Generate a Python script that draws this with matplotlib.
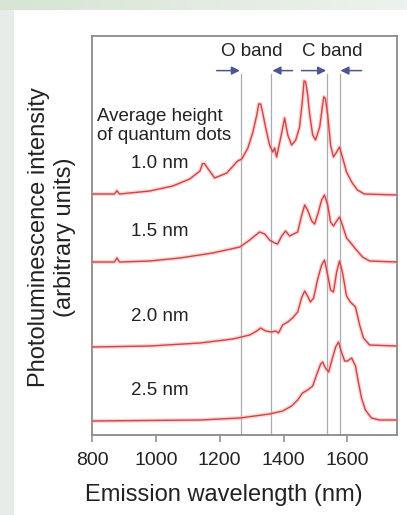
import numpy as np
import matplotlib
matplotlib.use('Agg')
import matplotlib.pyplot as plt
from matplotlib.patches import Rectangle

plt.rcParams['font.family'] = ['Liberation Sans', 'DejaVu Sans']

# Spettri di fotoluminescenza (intensita' relativa, unita' arbitrarie)
etichette = ['1.0 nm', '1.5 nm', '2.0 nm', '2.5 nm']
offset = [60.25, 43.25, 22.0, 3.5]

wl_10 = [800, 870, 878, 886, 981, 1053, 1106, 1138, 1146, 1152, 1166, 1184, 1222, 1256, 1269,
         1288, 1303, 1316, 1322, 1328, 1334, 1344, 1356, 1366, 1372, 1378, 1388, 1397, 1403,
         1413, 1425, 1438, 1450, 1459, 1464, 1469, 1475, 1481, 1491, 1500, 1513, 1522, 1526, 1531,
         1538, 1547, 1556, 1566, 1575, 1584, 1597, 1613, 1631, 1653, 1753]
int_10 = [0, 0, 0.8, 0, 0.75, 2, 3.75, 5.75, 7.6, 7.6, 6, 4, 5.25, 8.25, 8.75,
          11.5, 15.25, 19.75, 22.5, 22.5, 20.5, 16.5, 12.25, 10.5, 11.5, 9.25, 13, 16.5, 19,
          14.75, 12.25, 13.5, 16.75, 23.5, 28.3, 28.0, 25.0, 20.25, 14.75, 13.5, 16.75, 22.25, 24.3, 23.8,
          19.75, 12.25, 9.25, 10.5, 11.75, 9.25, 5.5, 3, 1, 0, -0.25]

wl_15 = [800, 870, 878, 886, 981, 1075, 1178, 1263, 1294, 1313, 1325, 1341, 1356, 1372,
         1381, 1394, 1406, 1419, 1431, 1444, 1456, 1466, 1475, 1488, 1497, 1509, 1519,
         1528, 1538, 1547, 1556, 1566, 1575, 1584, 1597, 1613, 1628, 1647, 1669, 1753]
int_15 = [0, 0, 1.0, 0, 0.25, 1, 2.25, 3.75, 5.5, 6.75, 7.5, 7, 5.5, 4.75,
          4.5, 6.5, 7.75, 6.5, 7, 7.5, 11.5, 14.25, 13, 10.25, 9.5, 12.5, 15.5,
          16.75, 14.25, 10, 9, 10.25, 11.25, 9.25, 6, 4.5, 3, 1.25, 0.25, 0]

wl_20 = [800, 981, 1138, 1241, 1294, 1316, 1328, 1344, 1363, 1375, 1384, 1397, 1413,
         1428, 1444, 1456, 1466, 1475, 1484, 1494, 1506, 1519, 1528, 1538, 1547, 1556,
         1566, 1575, 1584, 1597, 1609, 1625, 1638, 1650, 1669, 1753]
int_20 = [0, 0.25, 1, 2, 3, 4, 4.75, 4, 3.75, 4, 3.5, 5.5, 6.25,
          7.25, 8.75, 12.25, 14, 12.75, 11.25, 12.25, 16.75, 20.5, 21.75, 18, 14.25, 13.75,
          18.75, 21.5, 18.75, 12.75, 11.25, 10, 5.5, 2.25, 0.5, 0.25]

wl_25 = [800, 1138, 1263, 1356, 1397, 1425, 1444, 1459, 1475, 1491, 1503, 1516, 1522,
         1531, 1541, 1553, 1563, 1572, 1581, 1591, 1600, 1613, 1625, 1634, 1644, 1656,
         1675, 1700, 1753]
int_25 = [0, 0.25, 0.75, 1.75, 2.5, 3.75, 5.25, 7, 7.75, 8.75, 11.5, 14.25, 14.75,
          13.25, 12.25, 15.75, 18.5, 19.75, 17.25, 15, 15, 15.75, 13.75, 9.75, 5.75, 2.75,
          0.75, 0.25, 0.25]

# Limiti delle bande O e C (nm)
banda_o = [1267, 1362]
banda_c = [1537, 1575]

xticks = [800, 1000, 1200, 1400, 1600]

fig = plt.figure(figsize=(4.07, 5.15), dpi=100, facecolor='#e7ece8')

# Sfondo: pannello bianco e sfumatura verde in alto
bg = fig.add_axes([0, 0, 1, 1], zorder=-2)
bg.axis('off')
grad = np.linspace(0, 1, 256).reshape(1, -1)
bg.imshow(grad, extent=[0, 1, 1 - 10 / 515, 1], aspect='auto',
          cmap=matplotlib.colors.LinearSegmentedColormap.from_list('g', ['#d6e5d3', '#eef2ee']),
          transform=bg.transAxes)
bg.add_patch(Rectangle((14 / 407, 0), 1, 1 - 10 / 515, facecolor='white',
                       edgecolor='none', transform=bg.transAxes))
bg.add_patch(Rectangle((0, 0), 14 / 407, 1 - 10 / 515, facecolor='#e7ece8',
                       edgecolor='none', transform=bg.transAxes))
bg.set_xlim(0, 1)
bg.set_ylim(0, 1)

ax = fig.add_axes([92 / 407, 1 - 435 / 515, 305 / 407, 399 / 515])
ax.set_facecolor('none')

serie = [(wl_10, int_10), (wl_15, int_15), (wl_20, int_20), (wl_25, int_25)]
for (wl, inten), off in zip(serie, offset):
    y = np.array(inten) + off
    ax.plot(wl, y, color='#f2a5a5', lw=3.0, alpha=0.45, solid_joinstyle='round', zorder=3)
    ax.plot(wl, y, color='#cf4446', lw=1.0, solid_joinstyle='round', zorder=4)

# Linee verticali delle bande
for x in banda_o + banda_c:
    ax.axvline(x, ymin=0, ymax=0.905, color='#a8abb0', lw=0.9, zorder=2)

# Frecce delle bande
col_freccia = '#4a5592'
y_fr = 91.1
frecce = [(1190, banda_o[0] - 4), (1428, banda_o[1] + 3),
          (1456, banda_c[0] - 4), (1644, banda_c[1] + 3)]
for start, end in frecce:
    ax.annotate('', xy=(end, y_fr), xytext=(start, y_fr),
                arrowprops=dict(arrowstyle='-|>', color=col_freccia, lw=1.1,
                                mutation_scale=12, shrinkA=0, shrinkB=0))

ax.text(np.mean(banda_o) - 15, 95.9, 'O band', ha='center', va='center', fontsize=13.5, color='#222222')
ax.text(np.mean(banda_c) - 5, 95.9, 'C band', ha='center', va='center', fontsize=13.5, color='#222222')

ax.text(815, 77.3, 'Average height\nof quantum dots', ha='left', va='center',
        fontsize=13.5, linespacing=1.12, color='#222222')
for lab, off in zip(etichette, offset):
    ax.text(1012, off + 7.6, lab, ha='center', va='center', fontsize=13.5, color='#222222')

ax.set_xlim(800, 1755)
ax.set_ylim(0, 99.75)
ax.set_xticks(xticks)
ax.set_yticks([])
ax.tick_params(axis='x', direction='out', length=5, width=1.1, color='#8a8a8a',
               labelsize=14, pad=7, labelcolor='#222222')
for s in ax.spines.values():
    s.set_color('#8a8a8a')
    s.set_linewidth(1.3)

fig.text(224 / 407, 1 - 495 / 515, 'Emission wavelength (nm)', ha='center', va='center',
         fontsize=17, color='#222222')
fig.text(52 / 407, 1 - 237 / 515, 'Photoluminescence intensity\n(arbitrary units)',
         rotation=90, ha='center', va='center', fontsize=17, linespacing=1.25,
         multialignment='center', color='#222222')

fig.savefig('out.png', dpi=100, facecolor=fig.get_facecolor())
